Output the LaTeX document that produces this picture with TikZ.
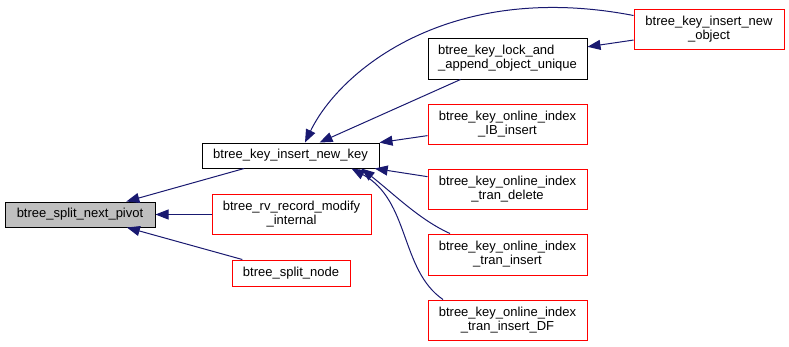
\documentclass[tikz,border=0pt]{standalone}
\usepackage{fontspec}
\setmainfont{Liberation Sans}
\usetikzlibrary{arrows.meta}
\definecolor{edgeblue}{HTML}{191970}
\definecolor{boxred}{HTML}{FF0000}
\tikzset{
  fn/.style={draw=black, line width=1pt, minimum height=25pt, inner sep=0pt,
    align=center, font=\fontsize{13}{14}\selectfont},
  fnred/.style={fn, draw=boxred},
  call/.style={draw=edgeblue, line width=1pt,
    -{Triangle[length=13pt,width=10pt,fill=edgeblue]}},
}
\begin{document}
\begin{tikzpicture}[x=1pt,y=-1pt]
  \useasboundingbox (0,0) rectangle (789,346);
  % callee on the left, callers to the right
  \node[fn, fill=black!25, minimum width=150pt] (pivot) at (80,214.5) {btree\_split\_next\_pivot};
  \node[fn, minimum width=177pt] (newkey) at (290.5,155.5) {btree\_key\_insert\_new\_key};
  \node[fnred, minimum width=159pt, minimum height=40pt] (rv) at (291.5,214.5) {btree\_rv\_record\_modify\\\_internal};
  \node[fnred, minimum width=118pt, minimum height=26pt] (split) at (291,273) {btree\_split\_node};
  \node[fn, align=left, minimum width=159pt, minimum height=41pt] (lock) at (507.5,58.5) {btree\_key\_lock\_and\\\_append\_object\_unique};
  \node[fnred, minimum width=159pt, minimum height=40pt] (ib) at (507.5,124) {btree\_key\_online\_index\\\_IB\_insert};
  \node[fnred, minimum width=159pt, minimum height=40pt] (del) at (507.5,189) {btree\_key\_online\_index\\\_tran\_delete};
  \node[fnred, minimum width=159pt, minimum height=41pt] (ins) at (507.5,254.5) {btree\_key\_online\_index\\\_tran\_insert};
  \node[fnred, minimum width=159pt, minimum height=40pt] (df) at (507.5,320) {btree\_key\_online\_index\\\_tran\_insert\_DF};
  \node[fnred, minimum width=150pt, minimum height=40pt] (obj) at (709,29) {btree\_key\_insert\_new\\\_object};

  \begin{scope}[call]
    \draw (newkey) -- (pivot);
    \draw (rv) -- (pivot);
    \draw (split) -- (pivot);
    \draw (lock) -- (newkey);
    \draw (ib) -- (newkey);
    \draw (del) -- (newkey);
    \draw ([xshift=-57.5pt]ins.north) .. controls (420,220) and (395,195) .. ([xshift=-18pt]newkey.south east);
    \draw ([xshift=-64.5pt]df.north) .. controls (400,270) and (410,200) .. ([xshift=-28pt]newkey.south east);
    \draw ([yshift=-7pt]obj.north west) .. controls (450,-20) and (340,70) .. ([xshift=14.5pt]newkey.north);
    \draw (obj) -- (lock);
  \end{scope}
\end{tikzpicture}
\end{document}
